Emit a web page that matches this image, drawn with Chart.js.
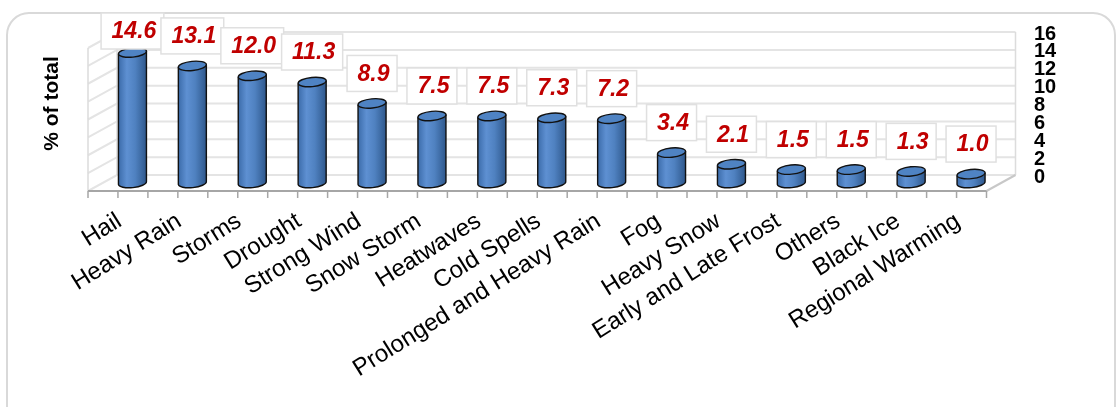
<!DOCTYPE html>
<html>
<head>
<meta charset="utf-8">
<script src="https://cdn.jsdelivr.net/npm/chart.js@4/dist/chart.umd.min.js"></script>
<style>
  html, body { margin: 0; padding: 0; background: #fff; }
  #wrap { width: 1119px; height: 407px; position: relative; }
</style>
</head>
<body>
<div id="wrap"><canvas id="c" width="1119" height="407"></canvas></div>
<script>
// Share of reported weather hazards (% of total)
const categories = [
  'Hail', 'Heavy Rain', 'Storms', 'Drought', 'Strong Wind', 'Snow Storm',
  'Heatwaves', 'Cold Spells', 'Prolonged and Heavy Rain', 'Fog', 'Heavy Snow',
  'Early and Late Frost', 'Others', 'Black Ice', 'Regional Warming'
];
const shares = [14.6, 13.1, 12.0, 11.3, 8.9, 7.5, 7.5, 7.3, 7.2, 3.4, 2.1, 1.5, 1.5, 1.3, 1.0];
const axisTickValues = [0, 2, 4, 6, 8, 10, 12, 14, 16];
const axisTitle = '% of total';

const FONT = '"Liberation Sans", Arial, Helvetica, sans-serif';

// half-depth of the 3D box: bars stand mid-way between the front edge and the back wall
const DX = 14.5;
const DY = 8;
// the value scale of the bars sits DY pixels below the back-wall scale
const PX_PER_UNIT = 143 / 16;
const SHIFT = DY / PX_PER_UNIT;

const scene3d = {
  id: 'scene3d',
  beforeDraw(chart) {
    const ctx = chart.ctx;
    const area = chart.chartArea;
    const yb = chart.scales.y2;
    const xs = chart.scales.x;
    ctx.save();

    // outer rounded frame
    ctx.strokeStyle = '#d9d9d9';
    ctx.lineWidth = 2;
    ctx.beginPath();
    ctx.roundRect(7, 13, 1108, 420, 22);
    ctx.stroke();

    const bl = area.left + DX, br = area.right + DX;
    const fl = area.left - DX, fr = area.right - DX;
    const y0 = yb.getPixelForValue(axisTickValues[0]);
    const yTop = yb.getPixelForValue(axisTickValues[axisTickValues.length - 1]);

    // back wall and left wall gridlines
    ctx.strokeStyle = '#e4e4e4';
    ctx.lineWidth = 2;
    axisTickValues.forEach(v => {
      const y = yb.getPixelForValue(v);
      ctx.beginPath();
      ctx.moveTo(fl, y + 2 * DY);
      ctx.lineTo(bl, y);
      ctx.lineTo(br, y);
      ctx.stroke();
    });
    // wall edges
    ctx.strokeStyle = '#dcdcdc';
    ctx.lineWidth = 1.5;
    ctx.beginPath();
    ctx.moveTo(fl, yTop + 2 * DY); ctx.lineTo(fl, y0 + 2 * DY);
    ctx.moveTo(bl, yTop); ctx.lineTo(bl, y0);
    ctx.moveTo(br, yTop); ctx.lineTo(br, y0);
    ctx.stroke();

    // floor
    ctx.strokeStyle = '#c8c8c8';
    ctx.lineWidth = 2;
    ctx.beginPath();
    ctx.moveTo(fr, y0 + 2 * DY); ctx.lineTo(br, y0);
    ctx.stroke();
    ctx.strokeStyle = '#a6a6a6';
    ctx.beginPath();
    ctx.moveTo(fl, y0 + 2 * DY); ctx.lineTo(fr, y0 + 2 * DY);
    ctx.stroke();

    // tick marks along the front edge (category boundaries and centres)
    ctx.lineWidth = 1.5;
    const step = (xs.getPixelForValue(1) - xs.getPixelForValue(0)) / 2;
    for (let k = 0; k <= categories.length * 2; k++) {
      const x = xs.getPixelForValue(0) - step + k * step - DX;
      ctx.beginPath();
      ctx.moveTo(x, y0 + 2 * DY);
      ctx.lineTo(x, y0 + 2 * DY + 7);
      ctx.stroke();
    }
    ctx.restore();
  },

  afterDatasetsDraw(chart) {
    const ctx = chart.ctx;
    const meta = chart.getDatasetMeta(0);
    const rot = -0.1;
    ctx.save();

    // cylinders
    meta.data.forEach(bar => {
      const { x, y, base, width } = bar.getProps(['x', 'y', 'base', 'width'], true);
      const rx = width / 2, ry = 4.6;
      const cx = Math.cos(rot) * rx, sy = Math.sin(rot) * rx;

      const g = ctx.createLinearGradient(x - rx, 0, x + rx, 0);
      g.addColorStop(0, '#3b6ba9');
      g.addColorStop(0.3, '#5e90d2');
      g.addColorStop(0.6, '#4f81c0');
      g.addColorStop(1, '#2e578b');

      ctx.beginPath();
      ctx.ellipse(x, base, rx, ry, rot, 0, Math.PI);
      ctx.lineTo(x - cx, y - sy);
      ctx.ellipse(x, y, rx, ry, rot, Math.PI, 0, true);
      ctx.closePath();
      ctx.fillStyle = g;
      ctx.fill();

      ctx.strokeStyle = '#111';
      ctx.lineWidth = 1.4;
      ctx.beginPath();
      ctx.moveTo(x - cx, y - sy);
      ctx.lineTo(x - cx, base - sy);
      ctx.ellipse(x, base, rx, ry, rot, Math.PI, 0, true);
      ctx.lineTo(x + cx, y + sy);
      ctx.stroke();

      // top face
      ctx.beginPath();
      ctx.ellipse(x, y, rx, ry, rot, 0, Math.PI * 2);
      ctx.fillStyle = '#4f83c3';
      ctx.fill();
      ctx.stroke();
    });

    // value labels in white boxes
    ctx.font = 'italic bold 23px ' + FONT;
    ctx.textAlign = 'center';
    ctx.textBaseline = 'middle';
    const boxH = 36;
    meta.data.forEach((bar, i) => {
      const txt = shares[i].toFixed(1);
      const w = ctx.measureText(txt).width + 18;
      const cy = Math.max(bar.y - 30, 13 + boxH / 2);
      ctx.fillStyle = '#fff';
      ctx.strokeStyle = '#e0e0e0';
      ctx.lineWidth = 1.5;
      ctx.fillRect(bar.x - w / 2, cy - boxH / 2, w, boxH);
      ctx.strokeRect(bar.x - w / 2, cy - boxH / 2, w, boxH);
      ctx.fillStyle = '#c00000';
      ctx.fillText(txt, bar.x + 1.5, cy + 1);
    });
    ctx.restore();
  }
};

new Chart(document.getElementById('c'), {
  type: 'bar',
  data: {
    labels: categories,
    datasets: [{
      data: shares,
      yAxisID: 'y',
      base: 0,
      backgroundColor: 'rgba(0,0,0,0)',
      borderWidth: 0,
      categoryPercentage: 1,
      barPercentage: 0.47
    }]
  },
  options: {
    responsive: false,
    animation: false,
    devicePixelRatio: 1,
    layout: { padding: { top: 32, left: 40, right: 0, bottom: 0 } },
    plugins: { legend: { display: false }, tooltip: { enabled: false } },
    scales: {
      x: {
        grid: { display: false },
        border: { display: false },
        ticks: {
          autoSkip: false,
          minRotation: 32,
          maxRotation: 32,
          labelOffset: -13,
          padding: 24,
          color: '#000',
          font: { family: FONT, size: 24 }
        },
        afterFit(s) { s.height = 232; }
      },
      y: {
        position: 'left',
        min: SHIFT,
        max: 16 + SHIFT,
        grid: { display: false },
        border: { display: false },
        ticks: { display: false },
        title: {
          display: true,
          text: axisTitle,
          color: '#000',
          padding: 0,
          font: { family: FONT, size: 21, weight: 'bold' }
        },
        afterFit(s) { s.width = 62.5; }
      },
      y2: {
        position: 'right',
        min: axisTickValues[0],
        max: axisTickValues[axisTickValues.length - 1],
        grid: {
          display: true,
          drawOnChartArea: false,
          drawTicks: true,
          tickLength: 33,
          color: 'rgba(0,0,0,0)'
        },
        border: { display: false },
        afterBuildTicks(s) { s.ticks = axisTickValues.map(v => ({ value: v })); },
        ticks: {
          autoSkip: false,
          padding: 0,
          labelOffset: 2,
          color: '#000',
          font: { family: FONT, size: 20, weight: 'bold', lineHeight: 0.9 }
        },
        afterFit(s) { s.width = 118; }
      }
    }
  },
  plugins: [scene3d]
});
</script>
</body>
</html>
